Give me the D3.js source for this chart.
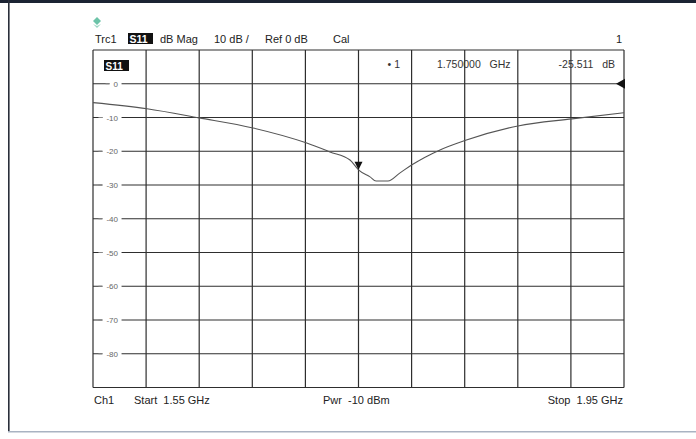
<!DOCTYPE html>
<html><head><meta charset="utf-8">
<script src="https://cdn.jsdelivr.net/npm/d3@7"></script>
<style>
html,body{margin:0;padding:0;background:#fff;}
text{font-family:"Liberation Sans",Arial,sans-serif;white-space:pre;}
</style></head>
<body>
<svg id="c" width="696" height="439"></svg>
<script>
// ---- data ----
const freqGHz = [1.55, 1.5907, 1.6299, 1.6705, 1.7105, 1.7285, 1.7436, 1.75, 1.7587, 1.7632, 1.7722, 1.7813, 1.7903, 1.8114, 1.8295, 1.8701, 1.9108, 1.95];
const s11dB   = [-5.6, -7.4, -10.1, -13.1, -17.5, -20.2, -22.6, -25.5, -27.6, -28.8, -28.8, -26.4, -24.0, -19.6, -16.9, -12.5, -10.4, -8.6];
const yTickValues = [0, -10, -20, -30, -40, -50, -60, -70, -80];
const yGridValues = [10, 0, -10, -20, -30, -40, -50, -60, -70, -80, -90];
const xGridValues = [1.55, 1.59, 1.63, 1.67, 1.71, 1.75, 1.79, 1.83, 1.87, 1.91, 1.95];
const marker = {f: 1.75, db: -25.511};
const headerTexts = ["Trc1", "S11", "dB Mag", "10 dB /", "Ref 0 dB", "Cal", "1"];
const footerTexts = ["Ch1", "Start  1.55 GHz", "Pwr  -10 dBm", "Stop  1.95 GHz"];

const svg = d3.select("#c");
const x = d3.scaleLinear().domain([1.55, 1.95]).range([93, 624]);
const y = d3.scaleLinear().domain([-90, 10]).range([387.5, 50]);

// outer frame
svg.append("rect").attr("x",0).attr("y",0).attr("width",696).attr("height",3).attr("fill","#1b2333");
svg.append("rect").attr("x",8).attr("y",0).attr("width",1.6).attr("height",432).attr("fill","#2a2f3a");
svg.append("rect").attr("x",8).attr("y",431).attr("width",688).attr("height",1.5).attr("fill","#a9b3c2");

// teal icon
const ic = svg.append("g").attr("transform","translate(97,22)").attr("fill","#6cc3a8");
ic.append("path").attr("d","M0,-5 L4,-1 L0,3 L-4,-1 Z");
ic.append("path").attr("d","M-4,2 L0,6 L4,2 L0,4 Z").attr("opacity",0.7);

// grid
const g = svg.append("g");
g.selectAll("line.h").data(yGridValues).join("line")
  .attr("x1", x(1.55)).attr("x2", x(1.95))
  .attr("y1", d=>y(d)).attr("y2", d=>y(d))
  .attr("stroke","#2e2e2e").attr("stroke-width",1.2);
g.selectAll("line.v").data(xGridValues).join("line")
  .attr("y1", y(10)).attr("y2", y(-90))
  .attr("x1", d=>x(d)).attr("x2", d=>x(d))
  .attr("stroke","#2e2e2e").attr("stroke-width",1.2);

// y labels with white background
const lab = svg.append("g");
yTickValues.forEach(v=>{
  const t = lab.append("text").attr("x",118).attr("y",y(v)+3)
    .attr("text-anchor","end").attr("font-size",8).attr("fill","#666").text(String(v));
  const bb = t.node().getBBox();
  lab.insert("rect","text").attr("x",bb.x-4).attr("y",y(v)-2).attr("width",bb.width+7).attr("height",4).attr("fill","#fff");
  lab.append("line").attr("x1",bb.x-8).attr("x2",bb.x-4).attr("y1",y(v)).attr("y2",y(v)).attr("stroke","#888").attr("stroke-width",1);
});

// trace
const line = d3.line().x(d=>x(d[0])).y(d=>y(d[1])).curve(d3.curveMonotoneX);
svg.append("path").datum(freqGHz.map((f,i)=>[f,s11dB[i]]))
  .attr("d",line).attr("fill","none").attr("stroke","#555").attr("stroke-width",1.1);

// marker triangle
const mx = x(marker.f), my = y(marker.db);
svg.append("path").attr("d",`M${mx-4},${my-8} L${mx+4},${my-8} L${mx},${my} Z`).attr("fill","#111");
// reference level triangle at right
const ry = y(0);
svg.append("path").attr("d",`M${x(1.95)+1},${ry-5} L${x(1.95)+1},${ry+5} L${x(1.95)-8},${ry} Z`).attr("fill","#111");

// header
const hy = 43;
const hdr = svg.append("g").attr("font-size",11).attr("fill","#222");
hdr.append("text").attr("x",95).attr("y",hy).text(headerTexts[0]);
hdr.append("rect").attr("x",128).attr("y",33).attr("width",25).attr("height",11).attr("fill","#111");
hdr.append("text").attr("x",129.5).attr("y",hy).attr("fill","#fff").attr("font-weight","bold").attr("font-size",10.5).text(headerTexts[1]);
hdr.append("text").attr("x",160).attr("y",hy).text(headerTexts[2]);
hdr.append("text").attr("x",214).attr("y",hy).text(headerTexts[3]);
hdr.append("text").attr("x",265).attr("y",hy).text(headerTexts[4]);
hdr.append("text").attr("x",333).attr("y",hy).text(headerTexts[5]);
hdr.append("text").attr("x",622).attr("y",hy).attr("text-anchor","end").text(headerTexts[6]);

// S11 label in plot
svg.append("rect").attr("x",104).attr("y",60).attr("width",25).attr("height",11).attr("fill","#111");
svg.append("text").attr("x",105.5).attr("y",69.5).attr("fill","#fff").attr("font-weight","bold").attr("font-size",10).text("S11");

// marker readout
const mr = svg.append("g").attr("font-size",10.5).attr("fill","#333");
mr.append("text").attr("x",400).attr("y",68).attr("text-anchor","end").text("\u2022 1");
mr.append("text").attr("x",437).attr("y",68).text(marker.f.toFixed(6)+"   GHz");
mr.append("text").attr("x",615).attr("y",68).attr("text-anchor","end").text(marker.db.toFixed(3)+"   dB");

// footer
const fy = 404;
const ft = svg.append("g").attr("font-size",11).attr("fill","#222");
ft.append("text").attr("x",94).attr("y",fy).text(footerTexts[0]);
ft.append("text").attr("x",134).attr("y",fy).text(footerTexts[1]);
ft.append("text").attr("x",323).attr("y",fy).text(footerTexts[2]);
ft.append("text").attr("x",623).attr("y",fy).attr("text-anchor","end").text(footerTexts[3]);
</script>
</body></html>
